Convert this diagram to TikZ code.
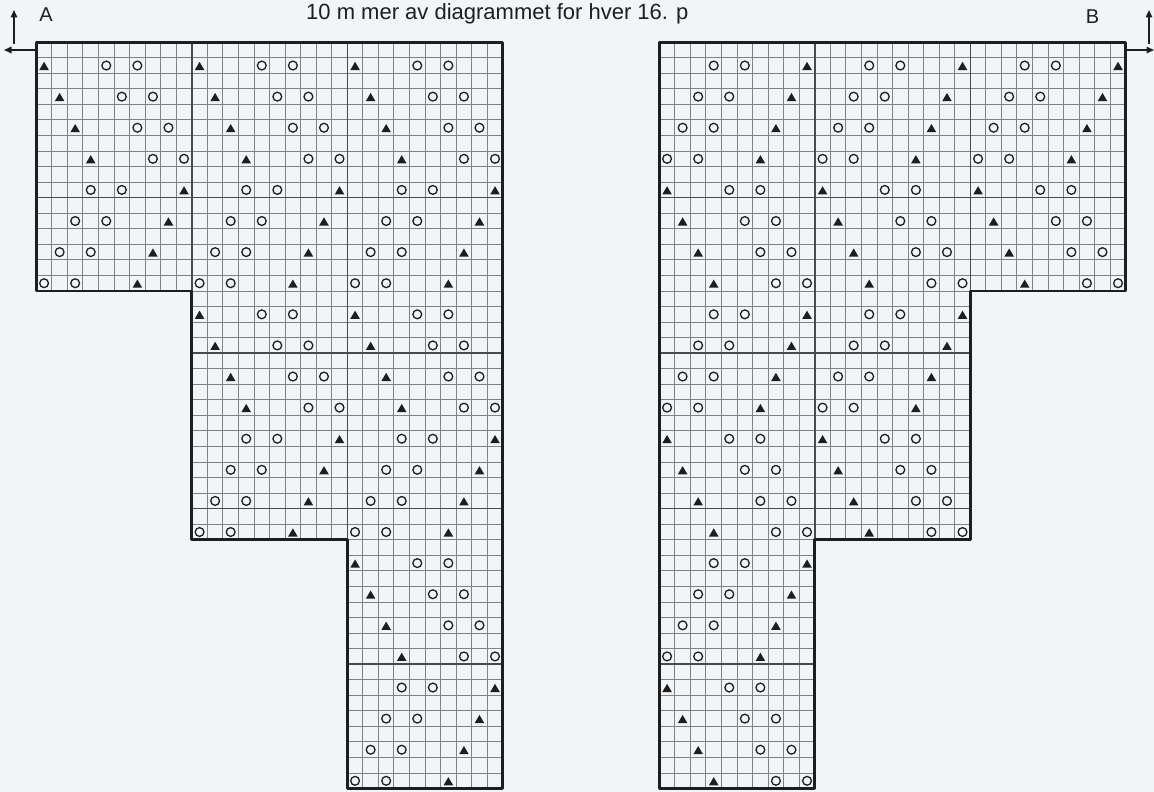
\documentclass[tikz,border=0pt]{standalone}
\usepackage{fontspec}
\setmainfont{Liberation Sans}
\usetikzlibrary{arrows.meta}
\definecolor{bgcol}{HTML}{F2F5F8}
\definecolor{thincol}{HTML}{828282}
\definecolor{thickcol}{HTML}{4A4A4A}
\definecolor{inkcol}{HTML}{1E1E1E}
\tikzset{
  thinline/.style={draw=thincol, line width=0.95pt},
  thickline/.style={draw=thickcol, line width=1.5pt},
  outline/.style={draw=inkcol, line width=2.8pt, line join=round},
  circsym/.style={draw=inkcol, line width=1.3pt},
  trisym/.style={fill=inkcol},
  arr/.style={draw=inkcol, line width=1.6pt, -{Triangle[length=7.5pt,width=6.5pt]}},
  lbl/.style={text=inkcol, inner sep=0pt, font=\fontsize{20}{24}\selectfont},
  notelbl/.style={text=inkcol, inner sep=0pt, font=\fontsize{22}{26}\selectfont},
}
\newcommand{\knitchart}{%
  \foreach \c in {0,...,30}{%
    \pgfmathtruncatemacro{\bt}{\c<10 ? 16 : (\c<20 ? 32 : 48)}%
    \draw[thinline] (\c,0) -- (\c,\bt);
  }
  \foreach \r in {0,...,48}{%
    \pgfmathtruncatemacro{\lf}{\r<17 ? 0 : (\r<33 ? 10 : 20)}%
    \draw[thinline] (\lf,\r) -- (30,\r);
  }
  \draw[thickline] (10,0) -- (10,32);
  \draw[thickline] (20,0) -- (20,48);
  \draw[thickline] (0,10) -- (30,10);
  \draw[thickline] (10,20) -- (30,20);
  \draw[thickline] (10,30) -- (30,30);
  \draw[thickline] (20,40) -- (30,40);
  \foreach \r in {1,3,...,47}{%
    \pgfmathtruncatemacro{\k}{mod((\r-1)/2,8)}%
    \pgfmathtruncatemacro{\tri}{\k<4 ? \k : 13-\k}%
    \pgfmathtruncatemacro{\oa}{\k<4 ? \k+4 : 7-\k}%
    \pgfmathtruncatemacro{\ob}{\k<4 ? \k+6 : 9-\k}%
    \pgfmathtruncatemacro{\bs}{\r<16 ? 0 : (\r<32 ? 1 : 2)}%
    \foreach \b in {\bs,...,2}{%
      \fill[trisym] ({10*\b+\tri+0.5},{\r+0.5}) ++(0,3.7pt) -- ++(4.8pt,-8.2pt) -- ++(-9.6pt,0) -- cycle;
      \draw[circsym] ({10*\b+\oa+0.5},{\r+0.5}) circle[radius=4.4pt];
      \draw[circsym] ({10*\b+\ob+0.5},{\r+0.5}) circle[radius=4.4pt];
    }
  }
  \draw[outline] (0,0) -- (30,0) -- (30,48) -- (20,48) -- (20,32) -- (10,32) -- (10,16) -- (0,16) -- cycle;
}
\begin{document}
\begin{tikzpicture}[x=1pt,y=-1pt]
  \fill[bgcol] (0,0) rectangle (1154,792);
  \useasboundingbox (0,0) rectangle (1154,792);
  \begin{scope}[shift={(36.3,42.2)}, x=15.55pt, y=-15.55pt]
    \knitchart
  \end{scope}
  \begin{scope}[shift={(1125.8,42.2)}, x=-15.55pt, y=-15.55pt]
    \knitchart
  \end{scope}
  % labels
  \node[lbl] (labA) at (46,14.5) {A};
  \node[lbl] (labB) at (1092.5,17) {B};
  \node[notelbl, anchor=base west] (note) at (306,19.5) {10 m mer av diagrammet for hver 16. p};
  % arrows
  \coordinate (aV1) at (14,44);
  \coordinate (aV2) at (14,10);
  \coordinate (aH1) at (36,50);
  \coordinate (aH2) at (4,50);
  \coordinate (bV1) at (1149,44);
  \coordinate (bV2) at (1149,10);
  \coordinate (bH1) at (1126,50);
  \coordinate (bH2) at (1154,50);
  \draw[arr] (aV1) -- (aV2);
  \draw[arr] (aH1) -- (aH2);
  \draw[arr] (bV1) -- (bV2);
  \draw[arr] (bH1) -- (bH2);
\end{tikzpicture}
\end{document}
